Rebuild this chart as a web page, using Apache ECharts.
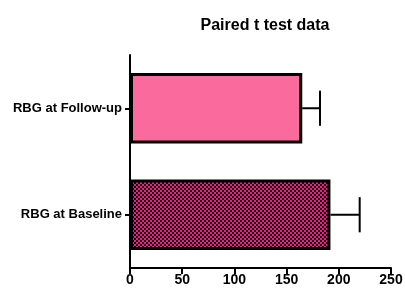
<!DOCTYPE html>
<html><head><meta charset="utf-8">
<script src="https://cdn.jsdelivr.net/npm/echarts@6/dist/echarts.min.js"></script>
<style>html,body{margin:0;padding:0;background:#fff}#c{width:405px;height:304px}</style>
</head><body><div id="c"></div>
<script>
const categories = ['RBG at Baseline', 'RBG at Follow-up'];
const means = [192, 165];
const errors = [28, 17];
const xTicks = [0, 50, 100, 150, 200, 250];

function checker() {
  const c = document.createElement('canvas'); c.width = 4; c.height = 4;
  const g = c.getContext('2d');
  g.fillStyle = '#ff158f'; g.fillRect(0, 0, 4, 4);
  g.fillStyle = '#000'; g.fillRect(0, 0, 2, 2); g.fillRect(2, 2, 2, 2);
  return c;
}
function dots() {
  const c = document.createElement('canvas'); c.width = 4; c.height = 4;
  const g = c.getContext('2d');
  g.fillStyle = '#fa6a9d'; g.fillRect(0, 0, 4, 4);
  g.fillStyle = '#c98b9f'; g.fillRect(1, 1, 1, 1);
  return c;
}
const fills = [{image: checker(), repeat: 'repeat'}, {image: dots(), repeat: 'repeat'}];

const chart = echarts.init(document.getElementById('c'), null, {renderer: 'canvas'});
const font = '"Liberation Sans", Arial, sans-serif';
chart.setOption({
  animation: false,
  title: {text: 'Paired t test data', left: 260, textAlign: 'center', top: 13,
    textStyle: {fontFamily: font, fontSize: 16, fontWeight: 'bold', color: '#000'}},
  grid: {left: 130, right: 14, top: 55, bottom: 36, containLabel: false, outerBoundsMode: 'none'},
  xAxis: {type: 'value', min: xTicks[0], max: xTicks[xTicks.length - 1], interval: 50,
    splitLine: {show: false},
    axisLine: {show: true, lineStyle: {color: '#000', width: 2}},
    axisTick: {show: true, length: 6, lineStyle: {color: '#000', width: 2}},
    axisLabel: {fontFamily: font, fontSize: 14, fontWeight: 'bold', color: '#000', margin: 5}},
  yAxis: {type: 'category', data: categories,
    axisLine: {show: true, lineStyle: {color: '#000', width: 2}},
    axisTick: {show: true, alignWithLabel: true, length: 5, lineStyle: {color: '#000', width: 2}},
    axisLabel: {fontFamily: font, fontSize: 13, fontWeight: 'bold', color: '#000', margin: 8}},
  series: [
    {type: 'bar', barWidth: '66%',
     data: means.map((v, i) => ({value: v, itemStyle: {color: fills[i], borderColor: '#000', borderWidth: 3}}))},
    {type: 'custom',
     renderItem: function (params, api) {
       const cat = api.value(0), m = api.value(1), e = api.value(2);
       const p0 = api.coord([m, cat]);
       const p1 = api.coord([m + e, cat]);
       const h = api.size([0, 1])[1] * 0.33;
       return {type: 'group', children: [
         {type: 'line', shape: {x1: p0[0], y1: p0[1], x2: p1[0], y2: p1[1]}, style: {stroke: '#000', lineWidth: 2}},
         {type: 'line', shape: {x1: p1[0], y1: p1[1] - h / 2, x2: p1[0], y2: p1[1] + h / 2}, style: {stroke: '#000', lineWidth: 2}}
       ]};
     },
     encode: {x: 1, y: 0},
     data: categories.map((c, i) => [i, means[i], errors[i]]),
     z: 1}
  ]
});
</script></body></html>
